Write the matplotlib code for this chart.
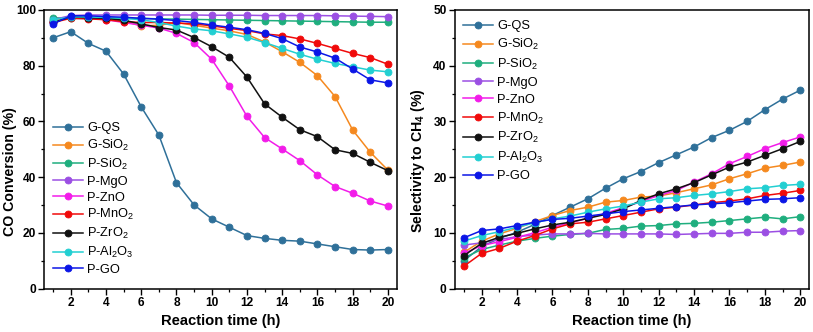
import numpy as np
import matplotlib
matplotlib.use("Agg")
import matplotlib.pyplot as plt
from matplotlib.ticker import MultipleLocator

plt.rcParams['font.family'] = ['Liberation Sans', 'DejaVu Sans']
plt.rcParams['mathtext.fontset'] = 'custom'
plt.rcParams['mathtext.rm'] = 'Liberation Sans'
plt.rcParams['mathtext.it'] = 'Liberation Sans:italic'
plt.rcParams['mathtext.bf'] = 'Liberation Sans:bold'
plt.rcParams['mathtext.default'] = 'regular'

hours = list(range(1, 21))

labels = ['G-QS', 'G-SiO$_2$', 'P-SiO$_2$', 'P-MgO', 'P-ZnO',
          'P-MnO$_2$', 'P-ZrO$_2$', 'P-Al$_2$O$_3$', 'P-GO']
colors = ['#2f7099', '#f5891f', '#1fae7e', '#9b4fe3', '#f21ce9',
          '#f00a0a', '#111111', '#22cfd2', '#0b16e6']

# CO conversion (%)
conv_gqs = [90.0, 92.2, 88.0, 85.2, 77.0, 65.2, 55.1, 38.0, 30.0, 25.0,
            22.0, 19.0, 18.0, 17.3, 17.0, 16.0, 15.0, 14.0, 13.8, 14.0]
conv_gsio2 = [96.0, 97.5, 97.0, 97.0, 96.0, 94.3, 94.5, 95.5, 94.5, 93.5,
              92.5, 91.2, 88.5, 85.0, 81.2, 76.4, 68.9, 56.9, 48.9, 42.5]
conv_psio2 = [97.2, 97.0, 97.0, 97.0, 97.0, 97.0, 96.8, 96.7, 96.6, 96.5,
              96.4, 96.3, 96.2, 96.1, 96.0, 95.9, 95.8, 95.7, 95.6, 95.6]
conv_pmgo = [96.5, 98.0, 98.2, 98.2, 98.2, 98.2, 98.2, 98.2, 98.2, 98.1,
             98.1, 98.1, 98.0, 98.0, 98.0, 98.0, 97.9, 97.8, 97.7, 97.6]
conv_pzno = [95.5, 97.5, 97.0, 96.5, 95.5, 94.5, 93.5, 91.6, 88.3, 82.3,
             72.7, 61.8, 54.2, 50.1, 45.9, 40.8, 36.6, 34.2, 31.4, 29.6]
conv_pmno2 = [95.5, 97.0, 96.8, 96.5, 95.8, 95.5, 95.5, 95.3, 95.0, 94.3,
              93.4, 92.6, 91.4, 90.8, 89.6, 88.0, 86.2, 84.4, 82.9, 80.5]
conv_pzro2 = [95.5, 97.5, 97.2, 97.0, 96.3, 95.0, 93.7, 92.8, 90.1, 86.8,
              83.0, 75.9, 66.3, 61.5, 57.0, 54.5, 49.8, 48.5, 45.3, 42.3]
conv_pal2o3 = [96.5, 97.5, 97.5, 97.3, 97.0, 96.5, 95.5, 94.2, 93.2, 92.5,
               91.4, 90.2, 88.3, 86.2, 84.1, 82.3, 80.8, 79.6, 78.4, 77.8]
conv_pgo = [95.0, 97.9, 97.9, 97.6, 97.4, 97.0, 96.7, 96.2, 95.5, 94.6,
            93.8, 92.9, 91.6, 89.7, 86.7, 84.9, 82.7, 78.8, 74.9, 73.8]

# Selectivity to CH4 (%)
sel_gqs = [5.0, 7.5, 9.0, 10.1, 11.5, 13.1, 14.6, 16.1, 18.0, 19.7,
           21.0, 22.6, 24.0, 25.4, 27.1, 28.4, 30.0, 32.1, 34.0, 35.6]
sel_gsio2 = [6.5, 8.5, 9.8, 10.8, 12.0, 13.1, 14.0, 14.6, 15.5, 15.8,
             16.4, 16.6, 17.2, 17.9, 18.6, 19.7, 20.6, 21.6, 22.1, 22.7]
sel_psio2 = [5.5, 7.0, 7.8, 8.5, 9.0, 9.4, 9.7, 9.9, 10.6, 10.8,
             11.2, 11.3, 11.6, 11.7, 11.9, 12.2, 12.5, 12.8, 12.5, 12.9]
sel_pmgo = [7.8, 8.2, 8.8, 9.3, 9.6, 9.8, 9.8, 9.9, 9.8, 9.8,
            9.8, 9.8, 9.7, 9.8, 9.9, 9.9, 10.1, 10.1, 10.3, 10.4]
sel_pzno = [6.3, 7.7, 8.4, 9.2, 10.0, 11.0, 11.8, 12.6, 13.5, 14.5,
            15.6, 16.7, 17.6, 19.1, 20.6, 22.4, 23.7, 25.1, 26.2, 27.2]
sel_pmno2 = [4.0, 6.3, 7.2, 8.5, 9.5, 10.7, 11.6, 11.9, 12.5, 13.1,
             13.7, 14.3, 14.6, 15.0, 15.4, 15.7, 16.1, 16.7, 17.1, 17.6]
sel_pzro2 = [5.9, 8.1, 9.2, 9.9, 10.7, 11.4, 11.9, 12.6, 13.3, 14.3,
             15.8, 17.0, 17.9, 19.0, 20.4, 21.8, 22.7, 23.9, 25.1, 26.4]
sel_pal2o3 = [8.5, 9.5, 10.2, 11.0, 11.8, 12.5, 13.0, 13.7, 14.3, 14.8,
              15.5, 16.1, 16.3, 16.7, 17.0, 17.4, 17.9, 18.1, 18.5, 18.7]
sel_pgo = [9.1, 10.4, 10.7, 11.3, 11.9, 12.4, 12.6, 13.0, 13.4, 13.8,
           14.1, 14.4, 14.7, 15.0, 15.2, 15.4, 15.7, 16.0, 16.1, 16.3]

conversion = [conv_gqs, conv_gsio2, conv_psio2, conv_pmgo, conv_pzno,
              conv_pmno2, conv_pzro2, conv_pal2o3, conv_pgo]
selectivity = [sel_gqs, sel_gsio2, sel_psio2, sel_pmgo, sel_pzno,
               sel_pmno2, sel_pzro2, sel_pal2o3, sel_pgo]

fig = plt.figure(figsize=(8.13, 3.32), dpi=100)
ax1 = fig.add_axes([0.0545, 0.131, 0.4335, 0.839])
ax2 = fig.add_axes([0.5597, 0.131, 0.4355, 0.839])


def style_axis(ax, ymax, ystep, ylabel, label_y):
    ax.set_xlim(0.5, 20.5)
    ax.set_ylim(0, ymax)
    ax.xaxis.set_major_locator(MultipleLocator(2))
    ax.xaxis.set_minor_locator(MultipleLocator(1))
    ax.yaxis.set_major_locator(MultipleLocator(ystep))
    ax.yaxis.set_minor_locator(MultipleLocator(ystep / 2))
    ax.tick_params(which='both', direction='out', top=False, right=False)
    ax.tick_params(which='major', length=4, width=1.0, labelsize=8.6, pad=2)
    ax.tick_params(which='minor', length=2.5, width=0.9)
    for lab in ax.get_xticklabels() + ax.get_yticklabels():
        lab.set_fontweight('bold')
    for sp in ax.spines.values():
        sp.set_linewidth(1.1)
    ax.set_xlabel('Reaction time (h)', fontsize=10.6, fontweight='bold')
    ax.set_ylabel(ylabel, fontsize=10.2, fontweight='bold')
    ax.xaxis.set_label_coords(0.5, -0.09)
    ax.yaxis.set_label_coords(-0.078, label_y)


for vals, lab, col in zip(conversion, labels, colors):
    ax1.plot(hours, vals, '-o', color=col, lw=1.1, ms=5.0,
             mec=col, mfc=col, mew=0.6, label=lab)
for vals, lab, col in zip(selectivity, labels, colors):
    ax2.plot(hours, vals, '-o', color=col, lw=1.1, ms=5.0,
             mec=col, mfc=col, mew=0.6, label=lab)

style_axis(ax1, 100, 20, 'CO Conversion (%)', 0.42)
style_axis(ax2, 50, 10, 'Selectivity to CH$_4$ (%)', 0.46)

leg_kw = dict(frameon=False, fontsize=9.3, handlelength=2.3,
              handletextpad=0.35, borderaxespad=0.0, borderpad=0.0)
ax1.legend(loc='lower left', bbox_to_anchor=(0.025, 0.045),
           labelspacing=0.29, **leg_kw)
ax2.legend(loc='upper left', bbox_to_anchor=(0.022, 0.963),
           labelspacing=0.37, **leg_kw)

fig.savefig('out.png', dpi=100)
